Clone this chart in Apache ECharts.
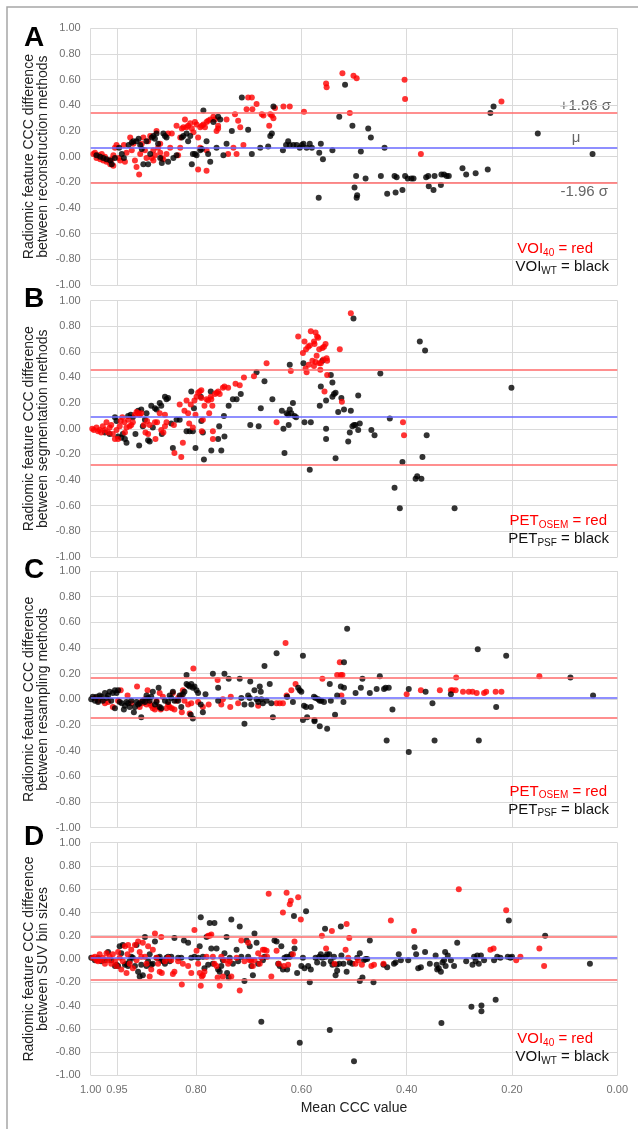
<!DOCTYPE html>
<html>
<head>
<meta charset="utf-8">
<script src="https://cdn.jsdelivr.net/npm/echarts@6.0.0/dist/echarts.min.js"></script>
<style>
  html, body { margin: 0; padding: 0; background: #fff; }
  #chart { width: 638px; height: 1129px; }
</style>
</head>
<body>
<div id="chart"></div>
<script>
// x ticks (Mean CCC value, reversed axis) and y range
var xTicks = [0, 0.2, 0.4, 0.6, 0.8, 0.95, 1];

// [mean CCC, CCC difference] per panel and group
var aRed = [[0.995,0.02],[0.992,0.03],[0.989,-0.01],[0.985,0.01],[0.982,-0.02],[0.979,0.02],[0.976,-0.03],[0.973,0.00],[0.970,-0.04],[0.966,-0.03],[0.963,-0.06],[0.960,-0.02],[0.957,0.01],[0.954,0.07],[0.957,-0.07],[0.951,0.09],[0.947,-0.01],[0.944,-0.03],[0.937,0.09],[0.935,-0.04],[0.932,0.03],[0.925,0.15],[0.922,0.05],[0.919,0.10],[0.916,-0.03],[0.913,-0.08],[0.908,-0.14],[0.906,0.02],[0.903,0.10],[0.900,0.15],[0.897,0.05],[0.894,-0.01],[0.891,0.12],[0.887,0.16],[0.884,-0.01],[0.881,-0.03],[0.878,0.01],[0.875,0.20],[0.872,0.07],[0.868,0.10],[0.865,-0.01],[0.862,-0.02],[0.856,0.02],[0.853,0.18],[0.846,0.18],[0.837,0.24],[0.834,0.01],[0.830,0.07],[0.827,0.22],[0.824,0.23],[0.821,0.29],[0.818,0.23],[0.815,0.24],[0.811,0.26],[0.808,0.22],[0.805,0.19],[0.802,0.27],[0.799,0.25],[0.796,0.15],[0.792,0.23],[0.789,0.24],[0.786,0.25],[0.783,0.23],[0.780,0.27],[0.777,0.28],[0.773,0.29],[0.767,0.31],[0.764,0.29],[0.761,0.20],[0.758,0.22],[0.796,-0.10],[0.780,-0.11],[0.758,0.24],[0.742,0.29],[0.729,0.07],[0.726,0.33],[0.720,0.28],[0.716,0.23],[0.704,0.37],[0.701,0.46],[0.694,0.46],[0.693,0.37],[0.685,0.41],[0.675,0.33],[0.672,0.32],[0.661,0.24],[0.659,0.33],[0.656,0.32],[0.653,0.30],[0.650,0.38],[0.634,0.39],[0.622,0.39],[0.792,0.07],[0.780,0.05],[0.739,0.02],[0.723,0.02],[0.710,0.09],[0.830,0.15],[0.849,0.07],[0.881,0.05],[0.868,0.03],[0.595,0.35],[0.553,0.57],[0.552,0.54],[0.522,0.65],[0.501,0.63],[0.495,0.61],[0.508,0.34],[0.404,0.60],[0.403,0.45],[0.373,0.02],[0.220,0.43]];
var aBlack = [[0.946,0.07],[0.941,0.02],[0.937,-0.01],[0.928,0.09],[0.922,0.11],[0.919,0.12],[0.913,0.12],[0.909,0.14],[0.906,0.09],[0.903,0.06],[0.900,-0.06],[0.894,0.12],[0.891,-0.06],[0.887,0.02],[0.884,0.15],[0.881,0.16],[0.878,0.14],[0.875,0.18],[0.872,0.10],[0.868,-0.01],[0.865,-0.05],[0.862,0.18],[0.859,0.16],[0.856,0.15],[0.853,-0.04],[0.843,-0.01],[0.837,0.01],[0.827,0.15],[0.824,0.16],[0.818,0.18],[0.815,0.12],[0.811,0.16],[0.808,-0.06],[0.806,0.02],[0.802,0.02],[0.799,0.01],[0.792,0.05],[0.789,0.06],[0.786,0.36],[0.780,0.12],[0.777,0.02],[0.773,-0.04],[0.767,0.27],[0.761,0.07],[0.758,0.31],[0.754,0.29],[0.748,0.01],[0.742,0.10],[0.732,0.20],[0.713,0.46],[0.701,0.21],[0.694,0.02],[0.678,0.07],[0.663,0.08],[0.659,0.16],[0.656,0.18],[0.653,0.39],[0.635,0.05],[0.629,0.09],[0.625,0.12],[0.622,0.09],[0.615,0.09],[0.609,0.09],[0.603,0.07],[0.599,0.09],[0.596,0.10],[0.590,0.07],[0.584,0.10],[0.580,0.07],[0.960,-0.06],[0.963,-0.03],[0.970,-0.02],[0.976,-0.01],[0.982,0.00],[0.989,0.01],[0.954,-0.01],[0.566,0.03],[0.563,0.10],[0.559,-0.02],[0.541,0.05],[0.528,0.31],[0.517,0.56],[0.503,0.24],[0.496,-0.15],[0.499,-0.24],[0.495,-0.32],[0.494,-0.30],[0.487,0.04],[0.478,-0.17],[0.473,0.22],[0.468,0.15],[0.449,-0.15],[0.442,0.07],[0.437,-0.29],[0.423,-0.15],[0.419,-0.16],[0.421,-0.28],[0.408,-0.26],[0.403,-0.15],[0.398,-0.17],[0.391,-0.17],[0.387,-0.17],[0.363,-0.16],[0.359,-0.15],[0.358,-0.23],[0.349,-0.26],[0.347,-0.15],[0.335,-0.22],[0.334,-0.14],[0.329,-0.14],[0.324,-0.15],[0.320,-0.15],[0.294,-0.09],[0.287,-0.14],[0.269,-0.13],[0.246,-0.10],[0.241,0.34],[0.235,0.39],[0.151,0.18],[0.047,0.02],[0.567,-0.32]];

var bRed = [[0.997,0.00],[0.994,-0.01],[0.989,0.01],[0.986,-0.02],[0.983,-0.01],[0.980,-0.03],[0.977,0.02],[0.973,-0.01],[0.970,0.05],[0.967,-0.03],[0.964,0.01],[0.961,0.03],[0.958,-0.04],[0.954,-0.08],[0.951,-0.01],[0.948,-0.08],[0.945,0.02],[0.943,0.06],[0.940,0.09],[0.936,0.05],[0.935,-0.03],[0.932,0.01],[0.929,0.07],[0.926,0.02],[0.923,0.03],[0.920,0.05],[0.916,0.11],[0.913,0.13],[0.910,0.12],[0.907,0.11],[0.904,0.12],[0.899,0.03],[0.896,-0.03],[0.893,0.06],[0.891,-0.04],[0.888,0.03],[0.878,0.05],[0.877,-0.08],[0.874,0.05],[0.869,0.12],[0.866,-0.01],[0.862,-0.03],[0.859,0.11],[0.856,0.05],[0.859,0.02],[0.842,0.03],[0.841,-0.19],[0.831,0.19],[0.828,-0.22],[0.825,-0.11],[0.822,0.14],[0.818,0.22],[0.815,0.12],[0.813,0.04],[0.810,0.19],[0.806,0.01],[0.803,0.22],[0.801,0.11],[0.799,0.25],[0.796,0.28],[0.793,0.29],[0.790,0.30],[0.790,0.24],[0.789,-0.02],[0.787,0.07],[0.784,0.18],[0.780,0.23],[0.777,0.22],[0.775,0.12],[0.772,0.25],[0.771,0.23],[0.769,0.18],[0.768,-0.02],[0.768,-0.08],[0.764,0.27],[0.761,0.28],[0.758,0.29],[0.755,0.27],[0.749,0.32],[0.746,0.33],[0.739,0.32],[0.725,0.35],[0.717,0.34],[0.709,0.40],[0.690,0.41],[0.666,0.51],[0.647,0.05],[0.620,0.45],[0.606,0.72],[0.597,0.59],[0.594,0.68],[0.591,0.62],[0.587,0.64],[0.584,0.65],[0.592,0.47],[0.590,0.44],[0.586,0.50],[0.582,0.76],[0.576,0.68],[0.575,0.66],[0.573,0.75],[0.570,0.72],[0.568,0.71],[0.571,0.57],[0.566,0.51],[0.564,0.46],[0.563,0.51],[0.560,0.63],[0.558,0.54],[0.557,0.64],[0.554,0.66],[0.552,0.55],[0.551,0.53],[0.551,0.42],[0.556,0.29],[0.527,0.62],[0.523,0.21],[0.506,0.90],[0.407,0.05],[0.405,-0.05],[0.579,0.53],[0.573,0.52],[0.576,0.49],[0.566,0.62]];
var bBlack = [[0.973,-0.03],[0.964,-0.04],[0.954,0.09],[0.951,0.06],[0.948,-0.06],[0.942,-0.07],[0.939,-0.04],[0.935,-0.08],[0.932,-0.11],[0.929,0.10],[0.924,0.11],[0.920,0.09],[0.915,-0.04],[0.910,0.14],[0.908,-0.13],[0.904,0.15],[0.901,0.02],[0.897,0.07],[0.894,0.12],[0.891,-0.09],[0.888,-0.10],[0.885,0.18],[0.882,0.01],[0.878,0.16],[0.875,0.15],[0.869,0.20],[0.866,0.18],[0.859,0.25],[0.856,0.23],[0.853,0.24],[0.865,-0.04],[0.847,0.04],[0.844,-0.15],[0.837,0.07],[0.831,0.07],[0.818,-0.02],[0.812,-0.02],[0.809,0.29],[0.806,-0.02],[0.804,0.16],[0.801,-0.15],[0.791,0.25],[0.790,0.06],[0.787,-0.03],[0.785,-0.24],[0.772,0.29],[0.771,-0.17],[0.758,-0.08],[0.756,0.02],[0.752,-0.17],[0.747,0.10],[0.746,-0.06],[0.738,0.18],[0.730,0.23],[0.723,0.23],[0.715,0.27],[0.697,0.03],[0.685,0.44],[0.681,0.02],[0.670,0.37],[0.677,0.16],[0.655,0.23],[0.637,0.14],[0.634,0.00],[0.632,-0.19],[0.628,0.12],[0.625,0.11],[0.622,0.15],[0.624,0.03],[0.622,0.50],[0.619,0.12],[0.616,0.20],[0.613,0.10],[0.610,0.09],[0.594,0.05],[0.584,-0.32],[0.596,0.51],[0.582,0.05],[0.565,0.18],[0.563,0.33],[0.560,0.53],[0.553,0.22],[0.553,0.00],[0.553,-0.08],[0.544,0.42],[0.541,0.36],[0.541,0.25],[0.538,0.27],[0.535,0.28],[0.535,-0.23],[0.530,0.13],[0.524,0.24],[0.519,0.15],[0.511,-0.10],[0.508,-0.03],[0.506,0.14],[0.503,0.02],[0.500,0.03],[0.497,0.03],[0.492,-0.01],[0.489,0.04],[0.492,0.26],[0.501,0.86],[0.467,-0.01],[0.461,-0.05],[0.450,0.43],[0.432,0.08],[0.423,-0.46],[0.413,-0.62],[0.408,-0.26],[0.383,-0.39],[0.380,-0.37],[0.372,-0.39],[0.370,-0.22],[0.362,-0.05],[0.375,0.68],[0.365,0.61],[0.309,-0.62],[0.201,0.32]];

var cRed = [[0.992,0.01],[0.986,-0.01],[0.980,0.00],[0.973,-0.03],[0.967,-0.02],[0.958,-0.06],[0.948,-0.01],[0.943,0.07],[0.930,0.03],[0.923,-0.03],[0.912,0.10],[0.907,-0.06],[0.904,-0.02],[0.901,-0.03],[0.897,0.00],[0.894,-0.04],[0.892,0.07],[0.888,-0.03],[0.885,-0.05],[0.882,-0.07],[0.878,-0.08],[0.875,-0.01],[0.872,-0.06],[0.869,0.05],[0.867,-0.08],[0.863,0.02],[0.856,-0.07],[0.853,-0.04],[0.850,-0.06],[0.846,-0.07],[0.844,0.05],[0.841,-0.08],[0.837,-0.01],[0.834,0.01],[0.828,0.03],[0.827,-0.10],[0.825,0.07],[0.822,-0.01],[0.815,-0.04],[0.812,-0.11],[0.809,-0.03],[0.805,0.24],[0.796,-0.02],[0.787,-0.06],[0.776,-0.04],[0.759,0.15],[0.752,-0.04],[0.749,0.00],[0.734,0.02],[0.735,-0.06],[0.720,-0.03],[0.682,-0.05],[0.647,-0.03],[0.641,-0.03],[0.635,-0.03],[0.628,0.03],[0.619,0.07],[0.611,0.12],[0.630,0.44],[0.560,0.16],[0.532,0.19],[0.527,0.29],[0.525,0.19],[0.522,0.19],[0.524,0.03],[0.400,0.04],[0.373,0.07],[0.337,0.07],[0.316,0.07],[0.313,0.07],[0.307,0.07],[0.306,0.17],[0.293,0.06],[0.282,0.06],[0.275,0.06],[0.267,0.05],[0.253,0.05],[0.249,0.06],[0.231,0.06],[0.220,0.06],[0.148,0.18]];
var cBlack = [[0.999,0.00],[0.996,0.02],[0.992,-0.01],[0.989,0.02],[0.986,-0.02],[0.983,0.03],[0.980,0.02],[0.977,-0.01],[0.973,0.05],[0.970,0.01],[0.967,0.03],[0.964,0.06],[0.961,-0.01],[0.958,0.05],[0.954,0.07],[0.954,-0.07],[0.951,0.05],[0.948,0.07],[0.945,-0.02],[0.941,-0.03],[0.937,-0.08],[0.935,-0.05],[0.932,-0.02],[0.929,-0.03],[0.926,-0.06],[0.923,-0.01],[0.918,-0.10],[0.916,-0.06],[0.913,-0.02],[0.910,-0.04],[0.907,-0.03],[0.904,-0.14],[0.901,-0.01],[0.897,-0.02],[0.894,0.03],[0.891,0.01],[0.888,-0.01],[0.885,0.02],[0.882,0.06],[0.878,-0.04],[0.875,-0.02],[0.871,0.09],[0.869,-0.06],[0.866,-0.07],[0.859,-0.01],[0.853,-0.02],[0.850,0.03],[0.847,0.01],[0.844,0.06],[0.841,-0.01],[0.834,-0.01],[0.831,0.03],[0.828,-0.06],[0.825,0.04],[0.822,0.06],[0.818,0.19],[0.818,0.12],[0.815,0.11],[0.812,0.10],[0.809,0.12],[0.806,0.09],[0.803,0.10],[0.799,0.07],[0.806,-0.15],[0.810,-0.12],[0.796,0.05],[0.791,-0.04],[0.787,-0.10],[0.782,0.04],[0.768,0.20],[0.758,0.09],[0.758,-0.01],[0.746,0.20],[0.738,0.16],[0.717,0.16],[0.714,0.01],[0.708,-0.19],[0.708,-0.04],[0.701,0.03],[0.698,0.01],[0.697,0.14],[0.695,-0.04],[0.689,0.07],[0.685,0.00],[0.682,-0.02],[0.679,0.10],[0.677,0.06],[0.676,0.00],[0.673,-0.03],[0.670,0.26],[0.666,-0.01],[0.660,0.12],[0.657,-0.03],[0.654,-0.14],[0.647,0.36],[0.627,0.02],[0.616,-0.02],[0.606,0.09],[0.603,0.07],[0.600,0.06],[0.597,0.34],[0.595,-0.05],[0.591,-0.06],[0.597,-0.16],[0.589,-0.14],[0.582,-0.06],[0.576,0.02],[0.575,-0.16],[0.575,-0.17],[0.573,0.01],[0.568,0.00],[0.565,-0.01],[0.565,-0.21],[0.562,-0.01],[0.557,-0.02],[0.551,-0.23],[0.546,0.12],[0.544,-0.01],[0.536,-0.12],[0.532,0.03],[0.525,0.10],[0.519,0.29],[0.519,0.09],[0.520,-0.02],[0.513,0.55],[0.497,0.05],[0.487,0.09],[0.484,0.16],[0.470,0.05],[0.457,0.08],[0.451,0.18],[0.443,0.08],[0.440,0.09],[0.434,0.09],[0.438,-0.32],[0.427,-0.08],[0.396,0.08],[0.396,-0.41],[0.364,0.06],[0.351,-0.03],[0.347,-0.32],[0.316,0.04],[0.265,0.39],[0.263,-0.32],[0.230,-0.06],[0.211,0.34],[0.089,0.17],[0.046,0.03]];

var dRed = [[0.996,0.01],[0.992,0.02],[0.989,-0.01],[0.986,-0.02],[0.983,0.04],[0.980,-0.01],[0.977,0.01],[0.973,-0.04],[0.970,0.05],[0.967,-0.01],[0.964,0.02],[0.961,-0.04],[0.958,0.04],[0.954,-0.02],[0.951,-0.06],[0.948,0.06],[0.945,0.01],[0.942,-0.09],[0.939,-0.02],[0.935,0.11],[0.932,-0.12],[0.930,0.04],[0.929,0.12],[0.926,-0.04],[0.923,0.08],[0.920,-0.08],[0.916,0.12],[0.913,-0.01],[0.910,0.15],[0.907,0.06],[0.904,0.02],[0.901,0.14],[0.897,0.02],[0.894,-0.04],[0.891,0.11],[0.888,-0.15],[0.885,-0.09],[0.882,0.08],[0.878,0.22],[0.875,0.01],[0.872,-0.04],[0.869,-0.11],[0.866,0.19],[0.865,-0.12],[0.859,-0.02],[0.853,0.01],[0.847,-0.01],[0.844,-0.13],[0.841,-0.11],[0.834,-0.02],[0.827,-0.22],[0.825,-0.04],[0.815,-0.06],[0.809,-0.12],[0.803,0.25],[0.799,0.07],[0.796,-0.04],[0.793,-0.12],[0.791,-0.23],[0.789,-0.15],[0.787,-0.14],[0.784,-0.11],[0.780,0.02],[0.777,0.20],[0.774,0.20],[0.771,0.21],[0.768,0.02],[0.765,-0.04],[0.761,-0.06],[0.759,-0.16],[0.755,-0.23],[0.752,0.02],[0.749,-0.15],[0.746,-0.01],[0.739,-0.04],[0.736,-0.02],[0.733,-0.15],[0.723,0.01],[0.717,-0.27],[0.714,0.16],[0.708,-0.02],[0.701,0.14],[0.698,-0.01],[0.695,-0.01],[0.692,-0.06],[0.689,-0.01],[0.682,0.05],[0.679,-0.04],[0.676,0.01],[0.673,0.08],[0.670,0.08],[0.666,0.07],[0.665,0.02],[0.662,0.56],[0.657,-0.15],[0.647,0.07],[0.643,-0.04],[0.635,0.40],[0.633,-0.06],[0.628,0.57],[0.625,-0.05],[0.622,0.47],[0.620,0.50],[0.616,0.04],[0.613,0.15],[0.606,0.53],[0.601,0.34],[0.561,0.20],[0.553,0.09],[0.542,0.24],[0.537,-0.04],[0.514,0.30],[0.516,0.08],[0.511,0.01],[0.509,0.18],[0.497,-0.04],[0.492,-0.01],[0.485,-0.05],[0.467,-0.06],[0.462,-0.05],[0.444,-0.04],[0.430,0.33],[0.386,0.24],[0.301,0.60],[0.241,0.08],[0.235,0.09],[0.211,0.42],[0.192,-0.01],[0.184,0.02],[0.148,0.09],[0.139,-0.06]];
var dBlack = [[0.999,0.01],[0.992,-0.01],[0.986,0.01],[0.980,-0.02],[0.973,-0.01],[0.967,0.06],[0.961,-0.01],[0.954,-0.06],[0.951,-0.05],[0.948,-0.06],[0.945,0.11],[0.942,0.05],[0.939,0.12],[0.935,-0.05],[0.932,-0.04],[0.929,-0.06],[0.926,-0.02],[0.923,0.02],[0.920,0.01],[0.916,-0.06],[0.913,0.12],[0.910,-0.11],[0.907,-0.15],[0.904,-0.05],[0.901,-0.14],[0.897,0.19],[0.894,-0.06],[0.891,-0.02],[0.888,0.04],[0.885,-0.05],[0.882,-0.04],[0.878,0.15],[0.875,0.01],[0.872,0.01],[0.869,0.02],[0.866,-0.01],[0.863,-0.02],[0.859,-0.04],[0.856,0.01],[0.853,0.02],[0.850,-0.02],[0.847,0.02],[0.841,0.18],[0.834,0.01],[0.828,0.01],[0.823,0.16],[0.815,0.14],[0.809,0.01],[0.803,0.02],[0.796,0.01],[0.793,0.11],[0.791,0.36],[0.787,0.02],[0.784,-0.08],[0.780,0.19],[0.777,-0.05],[0.774,0.31],[0.771,0.09],[0.768,-0.04],[0.765,0.31],[0.761,0.09],[0.758,-0.09],[0.755,-0.11],[0.752,-0.06],[0.749,-0.01],[0.746,0.05],[0.742,0.19],[0.741,-0.12],[0.738,-0.16],[0.736,0.01],[0.733,0.34],[0.730,-0.04],[0.723,0.08],[0.720,-0.02],[0.717,0.28],[0.714,0.02],[0.708,-0.19],[0.704,0.16],[0.701,0.02],[0.698,0.11],[0.695,-0.06],[0.692,-0.14],[0.689,0.22],[0.685,0.14],[0.682,-0.04],[0.676,-0.54],[0.673,-0.01],[0.670,0.02],[0.651,0.16],[0.647,0.15],[0.644,-0.04],[0.641,-0.06],[0.638,0.11],[0.635,-0.09],[0.632,0.01],[0.628,0.02],[0.627,-0.09],[0.622,0.02],[0.619,0.04],[0.614,0.37],[0.613,0.09],[0.608,-0.12],[0.603,-0.72],[0.600,-0.06],[0.597,0.01],[0.594,-0.08],[0.591,0.41],[0.587,-0.06],[0.584,-0.20],[0.582,-0.09],[0.573,0.01],[0.570,-0.03],[0.566,0.02],[0.563,0.04],[0.560,0.01],[0.558,-0.04],[0.555,0.26],[0.554,0.02],[0.551,0.04],[0.547,0.04],[0.546,-0.61],[0.544,-0.02],[0.541,-0.05],[0.538,0.02],[0.535,-0.14],[0.533,-0.05],[0.532,-0.10],[0.528,-0.04],[0.525,0.28],[0.524,0.03],[0.520,-0.04],[0.514,-0.11],[0.508,-0.03],[0.503,-0.04],[0.500,-0.88],[0.494,0.01],[0.489,0.05],[0.489,-0.19],[0.484,-0.16],[0.481,-0.01],[0.478,0.00],[0.475,0.00],[0.470,0.16],[0.463,-0.20],[0.444,-0.05],[0.437,-0.07],[0.424,-0.04],[0.421,-0.03],[0.415,0.04],[0.411,-0.01],[0.397,-0.01],[0.385,0.10],[0.382,0.04],[0.378,-0.08],[0.373,-0.07],[0.365,0.06],[0.356,-0.04],[0.345,0.03],[0.343,-0.05],[0.342,-0.09],[0.339,-0.08],[0.335,-0.11],[0.334,-0.55],[0.332,-0.03],[0.329,-0.01],[0.327,0.06],[0.326,-0.06],[0.322,0.03],[0.316,-0.01],[0.310,-0.06],[0.304,0.14],[0.287,-0.02],[0.277,-0.41],[0.275,-0.05],[0.272,0.02],[0.269,-0.02],[0.266,0.03],[0.263,-0.04],[0.259,0.03],[0.258,-0.40],[0.258,-0.45],[0.253,-0.01],[0.234,-0.01],[0.231,-0.35],[0.228,0.02],[0.222,0.01],[0.208,0.02],[0.206,0.33],[0.203,0.01],[0.200,0.02],[0.137,0.20],[0.052,-0.04]];

// limits of agreement: [+1.96 sd, mean, -1.96 sd]
var aLimits = [0.335, 0.067, -0.202];
var bLimits = [0.457, 0.085, -0.285];
var cLimits = [0.171, 0.013, -0.145];
var dLimits = [0.193, 0.007, -0.179];

var panelLetters = ['A', 'B', 'C', 'D'];
var yNameLine2 = ['between reconstruction methods', 'between segmentation methods', 'between resampling methods', 'between SUV bin sizes'];
var legendNames = [['VOI', '40', 'WT'], ['PET', 'OSEM', 'PSF'], ['PET', 'OSEM', 'PSF'], ['VOI', '40', 'WT']];

var panels = [
  { red: aRed, black: aBlack, lim: aLimits, redTop: false },
  { red: bRed, black: bBlack, lim: bLimits, redTop: true },
  { red: cRed, black: cBlack, lim: cLimits, redTop: false },
  { red: dRed, black: dBlack, lim: dLimits, redTop: true }
];

var FONT = 'Liberation Sans, Arial, sans-serif';
var tops = [28.3, 300.5, 571, 842.7];
var heights = [256.7, 256.5, 256.7, 232.6];

var chart = echarts.init(document.getElementById('chart'));

var grids = [], xAxes = [], yAxes = [], series = [], titles = [], graphics = [];

function fmt(v) { return Math.abs(v) < 1e-9 ? '0.00' : v.toFixed(2); }

function legendRich(color) {
  return {
    a: { fontSize: 15, fontFamily: FONT, fontWeight: 'normal', color: color, lineHeight: 18, verticalAlign: 'middle' },
    s: { fontSize: 10, fontFamily: FONT, fontWeight: 'normal', color: color, lineHeight: 10, verticalAlign: 'bottom' }
  };
}

panels.forEach(function (p, i) {
  grids.push({ left: 90.7, right: 20.7, top: tops[i], height: heights[i] });
  xAxes.push({
    gridIndex: i, type: 'value', min: 0, max: 1, inverse: true,
    axisLine: { show: false },
    axisTick: { show: i === 3, customValues: xTicks, length: 4, lineStyle: { color: '#d6d6d6' } },
    axisLabel: { show: i === 3, customValues: xTicks, formatter: fmt, color: '#707070', fontSize: 11, fontFamily: FONT, margin: 9 },
    splitLine: { show: true, lineStyle: { color: '#dadada', width: 1 } }
  });
  yAxes.push({
    gridIndex: i, type: 'value', min: -1, max: 1, interval: 0.2,
    axisLine: { show: false },
    axisTick: { show: true, length: 7, lineStyle: { color: '#d6d6d6' } },
    axisLabel: { formatter: fmt, color: '#707070', fontSize: 11, fontFamily: FONT, margin: 10 },
    splitLine: { show: true, lineStyle: { color: '#dadada', width: 1 } }
  });

  series.push(
    { type: 'scatter', xAxisIndex: i, yAxisIndex: i, data: p.red, symbolSize: 6, itemStyle: { color: '#ff0000' }, z: p.redTop ? 4 : 3 },
    { type: 'scatter', xAxisIndex: i, yAxisIndex: i, data: p.black, symbolSize: 6, itemStyle: { color: '#000000' }, z: p.redTop ? 3 : 4 },
    {
      type: 'scatter', xAxisIndex: i, yAxisIndex: i, data: [], z: 5,
      markLine: {
        silent: true, symbol: 'none', animation: false,
        label: { show: false },
        data: [
          { yAxis: p.lim[0], lineStyle: { color: '#ff6a6a', width: 1.5, type: 'solid' } },
          { yAxis: p.lim[1], lineStyle: { color: '#6a6aff', width: 1.5, type: 'solid' } },
          { yAxis: p.lim[2], lineStyle: { color: '#ff6a6a', width: 1.5, type: 'solid' } }
        ]
      }
    }
  );

  // panel letter
  graphics.push({
    type: 'text', x: 34, y: tops[i] + (i === 0 ? 10 : (i === 3 ? -5 : -1)),
    style: { text: panelLetters[i], font: 'bold 28px ' + FONT, fill: '#000', textAlign: 'center', align: 'center', textVerticalAlign: 'middle', verticalAlign: 'middle' }
  });
  // y axis name (two lines)
  var cy = tops[i] + heights[i] / 2;
  graphics.push({
    type: 'text', x: 29, y: cy, rotation: Math.PI / 2,
    style: { text: 'Radiomic feature CCC difference', font: '14px ' + FONT, fill: '#222', textAlign: 'center', align: 'center', textVerticalAlign: 'middle', verticalAlign: 'middle' }
  });
  graphics.push({
    type: 'text', x: 43, y: cy, rotation: Math.PI / 2,
    style: { text: yNameLine2[i], font: '14px ' + FONT, fill: '#222', textAlign: 'center', align: 'center', textVerticalAlign: 'middle', verticalAlign: 'middle' }
  });

  // group legend
  var ln = legendNames[i];
  var bottom = tops[i] + heights[i];
  titles.push({
    right: i % 3 === 0 ? 45 : 31, top: bottom - 45, padding: 0,
    text: '{a|' + ln[0] + '}{s|' + ln[1] + '}{a| = red}',
    textStyle: { fontWeight: 'normal', rich: legendRich('#ff0000') }
  });
  titles.push({
    right: 29, top: bottom - 27, padding: 0,
    text: '{a|' + ln[0] + '}{s|' + ln[2] + '}{a| = black}',
    textStyle: { fontWeight: 'normal', rich: legendRich('#111111') }
  });
});

// annotations of panel A, x axis name and outer frame
graphics.push(
  { type: 'text', x: 611, y: 106, style: { text: '+1.96 σ', font: '15px ' + FONT, fill: '#666', textAlign: 'right', align: 'right', textVerticalAlign: 'middle', verticalAlign: 'middle' } },
  { type: 'text', x: 576, y: 138, style: { text: 'μ', font: '15px ' + FONT, fill: '#666', textAlign: 'center', align: 'center', textVerticalAlign: 'middle', verticalAlign: 'middle' } },
  { type: 'text', x: 608, y: 192, style: { text: '-1.96 σ', font: '15px ' + FONT, fill: '#666', textAlign: 'right', align: 'right', textVerticalAlign: 'middle', verticalAlign: 'middle' } },
  { type: 'text', x: 354, y: 1108, style: { text: 'Mean CCC value', font: '14px ' + FONT, fill: '#222', textAlign: 'center', align: 'center', textVerticalAlign: 'middle', verticalAlign: 'middle' } },
  { type: 'rect', shape: { x: 7, y: 7, width: 700, height: 1200 }, style: { fill: 'none', stroke: '#a6a6a6', lineWidth: 1.5 }, silent: true }
);

chart.setOption({
  animation: false,
  backgroundColor: '#fff',
  title: titles,
  grid: grids,
  xAxis: xAxes,
  yAxis: yAxes,
  series: series,
  graphic: { elements: graphics }
});
</script>
</body>
</html>
